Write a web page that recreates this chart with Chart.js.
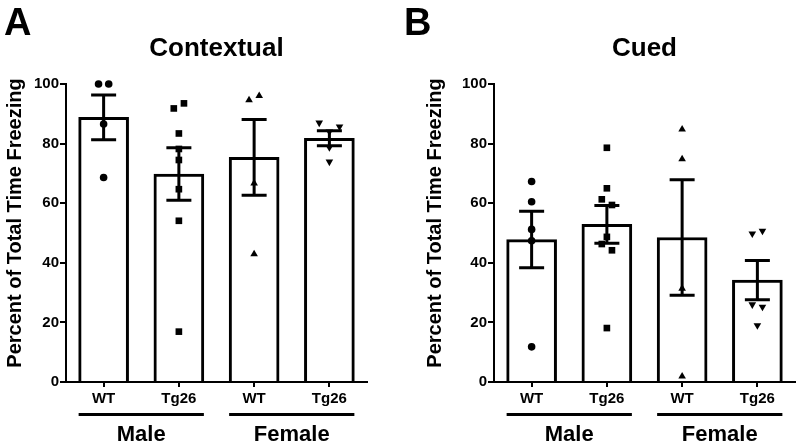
<!DOCTYPE html>
<html><head><meta charset="utf-8">
<script src="https://cdn.jsdelivr.net/npm/chart.js@4.4.1/dist/chart.umd.min.js"></script>
<style>
html,body{margin:0;padding:0;background:#fff;}
#wrap{position:relative;width:800px;height:446px;overflow:hidden;background:#fff;}
.panel{position:absolute;top:0;width:400px;height:446px;}
canvas{display:block;}
</style></head><body>
<div id="wrap">
<div class="panel" style="left:0"><canvas id="cA" width="400" height="446"></canvas></div>
<div class="panel" style="left:400px"><canvas id="cB" width="400" height="446"></canvas></div>
</div>
<script>
// ---------- data ----------
const categories = ['WT', 'Tg26', 'WT', 'Tg26'];
const groups = ['Male', 'Female'];
const yAxisTitle = 'Percent of Total Time Freezing';

const contextualMean = [88.8, 69.8, 75.4, 81.8];
const contextualSem  = [7.5, 8.8, 12.7, 2.5];
const contextualMaleWT    = [100, 100, 86.6, 68.6];
const contextualMaleTg26  = [91.8, 93.5, 83.4, 78.2, 74.5, 64.7, 54.1, 16.9];
const contextualFemaleWT  = [94.6, 96.0, 66.7, 42.9];
const contextualFemaleTg26 = [87.0, 85.7, 84.0, 78.7, 73.9];

const cuedMean = [47.8, 52.9, 48.5, 34.2];
const cuedSem  = [9.5, 6.3, 19.4, 6.6];
const cuedMaleWT    = [67.3, 60.5, 51.2, 47.4, 11.8];
const cuedMaleTg26  = [78.6, 65.0, 61.3, 59.4, 48.7, 46.3, 44.2, 18.1];
const cuedFemaleWT  = [84.8, 74.8, 31.4, 1.9];
const cuedFemaleTg26 = [49.8, 50.7, 26.0, 25.2, 19.0];

// ---------- helpers ----------
const FONT = '"Liberation Sans", Arial, Helvetica, sans-serif';
const JITTER_STEP = 0.135;   // horizontal spread for overlapping points (fraction of category)
const OVERLAP = 2.25;        // y distance (in % units) under which points collide

function jitter(values, catIndex) {
  const idx = values.map((v, i) => i).sort((a, b) => values[b] - values[a]);
  const offs = new Array(values.length).fill(0);
  let cluster = [idx[0]];
  const flush = (cl) => {
    const n = cl.length;
    if (n < 2) return;
    const members = cl.slice().sort((a, b) => a - b);
    const slots = [];
    let l = 0, h = n - 1;
    while (l <= h) { if (l !== h) { slots.push(l, h); } else { slots.push(l); } l++; h--; }
    members.forEach((m, k) => { offs[m] = (slots[k] - (n - 1) / 2) * JITTER_STEP; });
  };
  for (let k = 1; k < idx.length; k++) {
    const prev = cluster[cluster.length - 1];
    if (values[prev] - values[idx[k]] < OVERLAP) cluster.push(idx[k]);
    else { flush(cluster); cluster = [idx[k]]; }
  }
  flush(cluster);
  return values.map((v, i) => ({ x: catIndex + offs[i], y: v }));
}

const markerStyles = [
  { pointStyle: 'circle', radius: 3.8, rotation: 0 },
  { pointStyle: 'rect', radius: 4.7, rotation: 0 },
  { pointStyle: 'triangle', radius: 4.4, rotation: 0 },
  { pointStyle: 'triangle', radius: 4.4, rotation: 180 }
];

function makePanel(canvasId, opt) {
  const datasets = [];
  opt.points.forEach((vals, i) => {
    const m = markerStyles[i];
    datasets.push({
      type: 'scatter',
      data: jitter(vals, i),
      pointStyle: m.pointStyle,
      pointRadius: m.radius,
      pointRotation: m.rotation,
      pointBackgroundColor: '#000',
      pointBorderColor: '#000',
      pointBorderWidth: 0,
      pointHoverRadius: m.radius,
      clip: false,
      order: 1
    });
  });
  datasets.push({
    type: 'bar',
    data: opt.mean.map((v, i) => ({ x: i, y: v })),
    backgroundColor: '#fff',
    borderColor: '#000',
    borderWidth: 3,
    borderSkipped: 'start',
    barThickness: 50,
    clip: false,
    order: 2
  });

  const deco = {
    id: 'deco',
    afterDatasetsDraw(chart) {
      const { ctx, scales: { x, y } } = chart;
      ctx.save();
      ctx.strokeStyle = '#000';
      ctx.lineWidth = 3;
      opt.mean.forEach((m, i) => {
        const cx = x.getPixelForValue(i);
        const hi = y.getPixelForValue(m + opt.sem[i]);
        const lo = y.getPixelForValue(m - opt.sem[i]);
        ctx.beginPath();
        ctx.moveTo(cx, hi); ctx.lineTo(cx, lo);
        ctx.moveTo(cx - 12.5, hi); ctx.lineTo(cx + 12.5, hi);
        ctx.moveTo(cx - 12.5, lo); ctx.lineTo(cx + 12.5, lo);
        ctx.stroke();
      });
      ctx.restore();
    },
    afterDraw(chart) {
      const { ctx, chartArea: ca, scales: { x } } = chart;
      ctx.save();
      ctx.fillStyle = '#000';
      ctx.textBaseline = 'alphabetic';
      ctx.font = 'bold 38px ' + FONT;
      ctx.textAlign = 'left';
      ctx.fillText(opt.letter, opt.letterX, 35);
      ctx.font = 'bold 26px ' + FONT;
      ctx.textAlign = 'center';
      ctx.fillText(opt.title, (ca.left + ca.right) / 2, 56);
      ctx.save();
      ctx.translate(opt.yTitleX, 223);
      ctx.rotate(-Math.PI / 2);
      ctx.font = 'bold 20px ' + FONT;
      ctx.textAlign = 'center';
      ctx.fillText(yAxisTitle, 0, 0);
      ctx.restore();
      ctx.strokeStyle = '#000';
      ctx.lineWidth = 3;
      groups.forEach((g, gi) => {
        const a = x.getPixelForValue(gi * 2) - 25;
        const b = x.getPixelForValue(gi * 2 + 1) + 25;
        ctx.beginPath();
        ctx.moveTo(a, ca.bottom + 32.5);
        ctx.lineTo(b, ca.bottom + 32.5);
        ctx.stroke();
        ctx.font = 'bold 22px ' + FONT;
        ctx.textAlign = 'center';
        ctx.fillText(g, (x.getPixelForValue(gi * 2) + x.getPixelForValue(gi * 2 + 1)) / 2, ca.bottom + 59);
      });
      ctx.restore();
    }
  };

  return new Chart(document.getElementById(canvasId), {
    data: { datasets },
    options: {
      responsive: false,
      animation: false,
      devicePixelRatio: 1,
      layout: { padding: { left: 0, top: 84, right: opt.rightPad, bottom: 0 } },
      plugins: { legend: { display: false }, tooltip: { enabled: false }, title: { display: false } },
      scales: {
        x: {
          type: 'linear',
          min: -0.5, max: 3.5,
          offset: false,
          afterFit: (s) => { s.height = 64; },
          afterBuildTicks: (s) => { s.ticks = categories.map((c, i) => ({ value: i })); },
          ticks: {
            callback: (v) => categories[v],
            color: '#000',
            font: { family: FONT, size: 15, weight: 'bold' },
            padding: 3,
            maxRotation: 0,
            autoSkip: false
          },
          grid: { offset: false, drawOnChartArea: false, drawTicks: true, tickLength: 5, color: '#000', lineWidth: 2 },
          border: { display: true, color: '#000', width: 2 }
        },
        y: {
          type: 'linear',
          min: 0, max: 100,
          afterFit: (s) => { s.width = opt.yWidth; },
          ticks: {
            stepSize: 20,
            color: '#000',
            font: { family: FONT, size: 15, weight: 'bold' },
            padding: 1
          },
          grid: { drawOnChartArea: false, drawTicks: true, tickLength: 6, color: '#000', lineWidth: 2 },
          border: { display: true, color: '#000', width: 2 }
        }
      }
    },
    plugins: [deco]
  });
}

makePanel('cA', {
  letter: 'A', letterX: 4, title: 'Contextual', yTitleX: 21, yWidth: 66, rightPad: 33,
  mean: contextualMean, sem: contextualSem,
  points: [contextualMaleWT, contextualMaleTg26, contextualFemaleWT, contextualFemaleTg26]
});
makePanel('cB', {
  letter: 'B', letterX: 4, title: 'Cued', yTitleX: 41, yWidth: 94, rightPad: 5,
  mean: cuedMean, sem: cuedSem,
  points: [cuedMaleWT, cuedMaleTg26, cuedFemaleWT, cuedFemaleTg26]
});
</script>
</body></html>
